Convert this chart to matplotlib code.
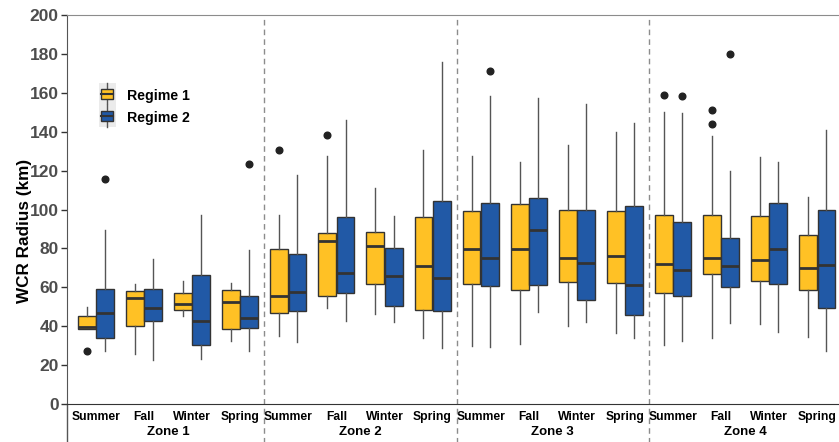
import numpy as np
import matplotlib.pyplot as plt
from matplotlib.legend_handler import HandlerBase
from matplotlib.patches import Rectangle
from matplotlib.lines import Line2D
from matplotlib.transforms import blended_transform_factory

plt.rcParams['font.family'] = ['Liberation Sans', 'DejaVu Sans']
plt.rcParams['font.weight'] = 'bold'

zones = ['Zone 1', 'Zone 2', 'Zone 3', 'Zone 4']
seasons = ['Summer', 'Fall', 'Winter', 'Spring']
regimes = ['Regime 1', 'Regime 2']

# box stats, one entry per zone/season (Zone 1 Summer ... Zone 4 Spring)
r1_whislo = [38.6, 25.8, 45.0, 32.6, 34.9, 49.3, 46.4, 34.0, 29.9, 30.9, 40.3, 36.7, 30.4, 33.8, 41.2, 34.3]
r1_q1 = [38.6, 40.0, 48.4, 38.6, 46.9, 55.3, 61.8, 48.4, 61.6, 58.7, 62.7, 62.3, 57.2, 66.8, 63.2, 58.7]
r1_med = [39.5, 54.4, 51.5, 52.2, 55.5, 83.6, 81.4, 71.2, 79.5, 79.8, 75.2, 76.2, 71.8, 75.0, 73.8, 69.9]
r1_q3 = [45.0, 57.9, 57.2, 58.4, 79.8, 87.9, 88.6, 96.1, 99.4, 103.0, 99.9, 99.4, 97.3, 97.2, 96.7, 87.0]
r1_whishi = [50.1, 61.5, 63.0, 62.3, 97.3, 127.6, 111.1, 130.5, 127.4, 124.5, 133.0, 139.6, 150.0, 137.7, 127.2, 106.6]
r1_fliers = [[27.5], [], [], [], [130.8], [138.4], [], [], [], [], [], [], [159.0], [151.4, 144.2], [], []]

r2_whislo = [27.5, 22.7, 23.2, 27.0, 32.1, 42.6, 42.1, 28.7, 29.2, 47.2, 42.1, 33.8, 32.6, 41.5, 37.1, 27.5]
r2_q1 = [34.0, 42.9, 30.4, 39.0, 47.7, 57.0, 50.3, 47.7, 60.8, 61.3, 53.6, 45.8, 55.5, 60.4, 61.6, 49.4]
r2_med = [46.7, 49.3, 42.9, 44.1, 57.5, 67.6, 65.8, 64.9, 75.0, 89.6, 72.4, 61.3, 68.8, 70.7, 79.5, 71.4]
r2_q3 = [58.9, 58.9, 66.4, 55.3, 77.3, 96.1, 80.3, 104.5, 103.3, 106.1, 99.9, 101.6, 93.6, 85.2, 103.2, 99.6]
r2_whishi = [89.3, 74.3, 97.3, 79.3, 117.6, 145.9, 96.8, 176.0, 158.6, 157.1, 154.2, 144.5, 149.4, 120.0, 124.6, 141.0]
r2_fliers = [[115.9], [], [], [123.3], [], [], [], [], [171.2], [], [], [], [158.6], [179.9], [], []]

colors = ['#FFC125', '#2159A6']
edge = '#333333'


def make_stats(lo, q1, med, q3, hi, fl):
    return [dict(whislo=a, q1=b, med=c, q3=d, whishi=e, fliers=f)
            for a, b, c, d, e, f in zip(lo, q1, med, q3, hi, fl)]


class BoxKey(HandlerBase):
    """Legend key drawn as a small boxplot glyph on a grey square."""
    def __init__(self, color):
        super().__init__()
        self.color = color

    def create_artists(self, legend, orig, xd, yd, w, h, fontsize, trans):
        bg = Rectangle((xd - 2, yd - 4), w + 4, h + 8, facecolor='#EBEBEB',
                       edgecolor='none', transform=trans)
        box = Rectangle((xd, yd + h * 0.05), w, h * 0.9, facecolor=self.color,
                        edgecolor=edge, lw=1, transform=trans)
        cx = xd + w / 2
        wl1 = Line2D([cx, cx], [yd - 4, yd + h * 0.05], color='#555555', lw=1, transform=trans)
        wl2 = Line2D([cx, cx], [yd + h * 0.95, yd + h + 4], color='#555555', lw=1, transform=trans)
        md = Line2D([xd, xd + w], [yd + h / 2, yd + h / 2], color=edge, lw=1.5, transform=trans)
        return [bg, wl1, wl2, box, md]


fig = plt.figure(figsize=(8.39, 4.42), dpi=100)
ax = fig.add_axes([0.0799, 0.086, 0.9201, 0.880])

pos = np.arange(16)
offset = 0.19
width = 0.37
stats = [make_stats(r1_whislo, r1_q1, r1_med, r1_q3, r1_whishi, r1_fliers),
         make_stats(r2_whislo, r2_q1, r2_med, r2_q3, r2_whishi, r2_fliers)]
for k, st in enumerate(stats):
    ax.bxp(st, positions=pos + (2 * k - 1) * offset, widths=width, patch_artist=True,
           showcaps=False,
           boxprops=dict(facecolor=colors[k], edgecolor=edge, linewidth=1),
           medianprops=dict(color=edge, linewidth=2),
           whiskerprops=dict(color='#555555', linewidth=1),
           flierprops=dict(marker='o', markerfacecolor='#222222', markeredgecolor='#222222',
                           markersize=4.8))

ax.set_xlim(-0.6, 15.45)
ax.set_ylim(0, 200)
ax.set_yticks(np.arange(0, 201, 20))
ax.tick_params(axis='y', labelsize=12.5, labelcolor='#4D4D4D', color='#333333', length=4, width=1, pad=2)
for lab in ax.get_yticklabels():
    lab.set_fontweight('bold')
ax.set_ylabel('WCR Radius (km)', fontsize=12.3, fontweight='bold')
# centred on the panel plus the zone strip underneath
ax.yaxis.set_label_coords(-0.046, 0.445)

ax.set_xticks(pos)
ax.set_xticklabels(seasons * 4, fontsize=8.7, fontweight='bold')
ax.tick_params(axis='x', length=0, pad=5)

ax.spines['right'].set_visible(False)
ax.spines['top'].set_color('#8C8C8C')
ax.spines['bottom'].set_color('#333333')
ax.spines['left'].set_color('#555555')

# zone separators and left edge run down through the label strip
tr = blended_transform_factory(ax.transData, ax.transAxes)
for x in [3.5, 7.5, 11.5]:
    ax.plot([x, x], [-0.1, 1.0], transform=tr, color='#8C8C8C', lw=1,
            linestyle=(0, (4, 3)), clip_on=False)
ax.plot([-0.6, -0.6], [-0.1, 0.0], transform=tr, color='#555555', lw=1, clip_on=False)

for i, z in enumerate(zones):
    ax.text(4 * i + 1.5, -0.073, z, transform=tr, ha='center', va='center',
            fontsize=9.5, fontweight='bold')

handles = [Rectangle((0, 0), 1, 1) for _ in regimes]
ax.legend(handles, regimes, loc='upper left', bbox_to_anchor=(0.028, 0.842), frameon=False,
          handler_map={handles[0]: BoxKey(colors[0]), handles[1]: BoxKey(colors[1])},
          prop=dict(size=10.2, weight='bold'), handlelength=0.8, handleheight=0.8,
          handletextpad=1.0, labelspacing=0.55)

fig.savefig('out.png', dpi=100)
